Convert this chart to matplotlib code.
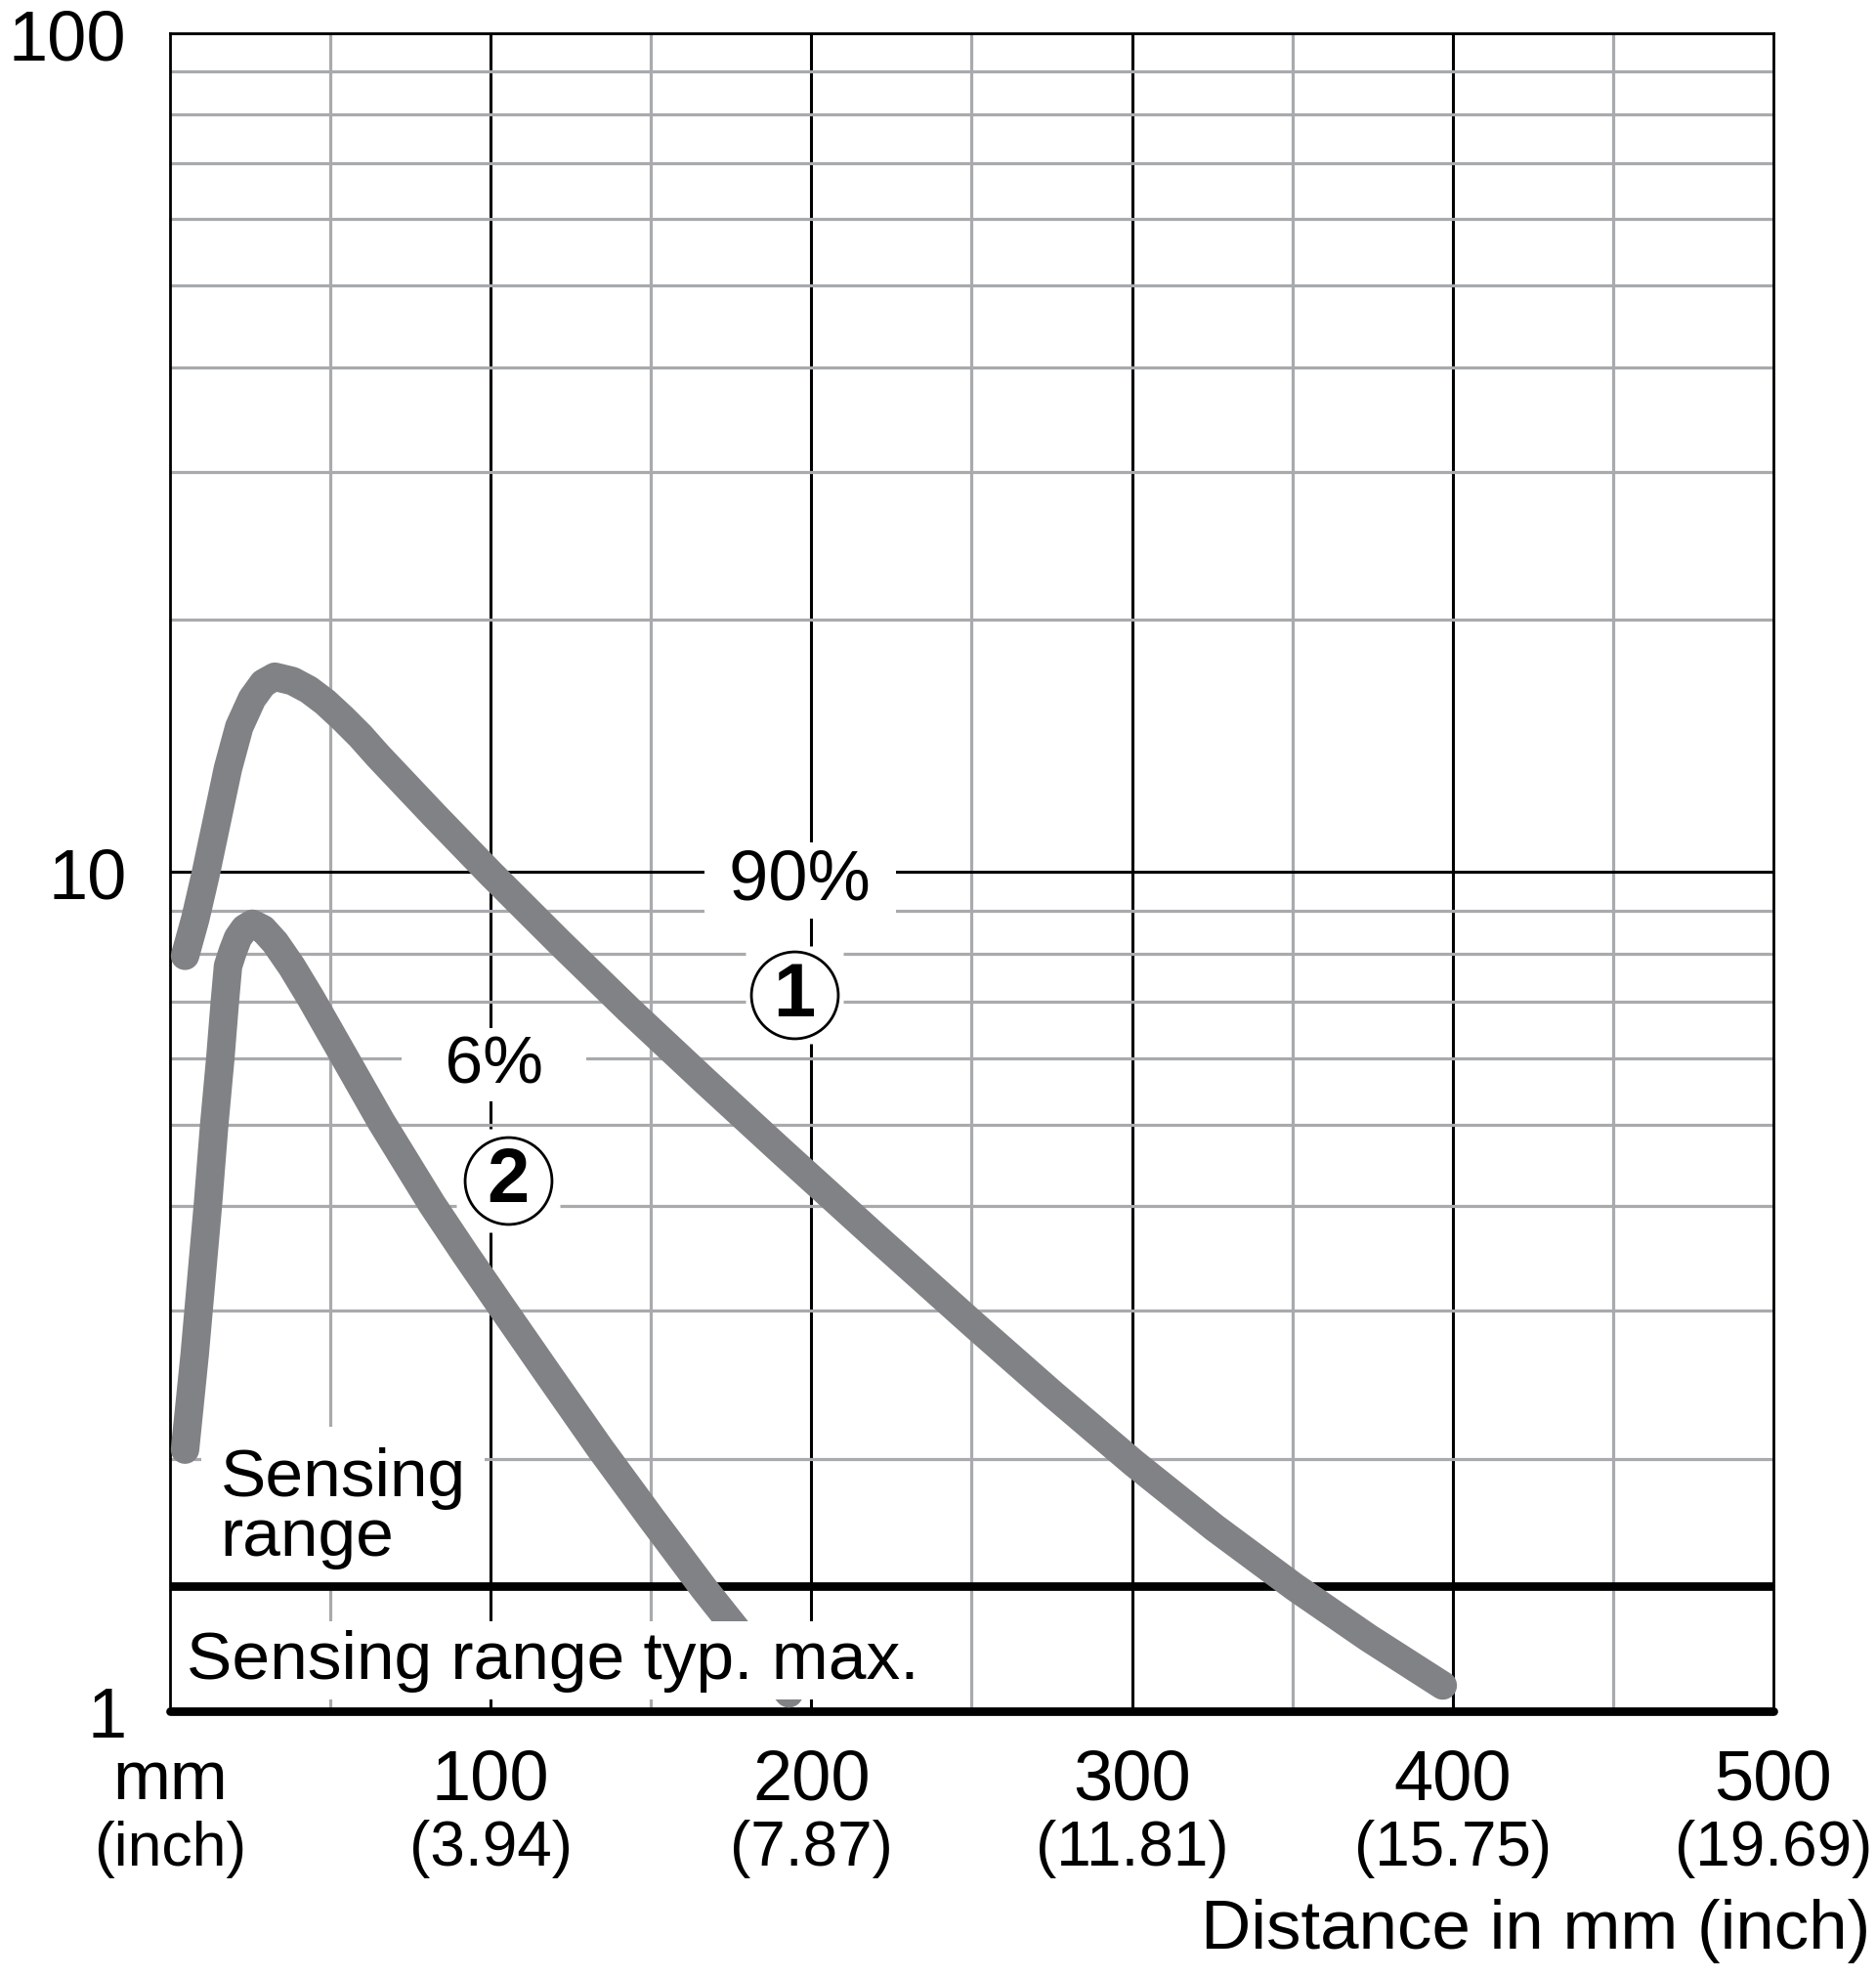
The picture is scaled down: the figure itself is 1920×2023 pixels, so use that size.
import matplotlib
matplotlib.use("Agg")
import matplotlib.pyplot as plt
import matplotlib.transforms as mtrans
from matplotlib.ticker import NullFormatter

plt.rcParams['font.family'] = ['Liberation Sans', 'DejaVu Sans']

# distance in mm vs sensing range (log scale)
dist_90 = [4.7, 7.9, 11.0, 14.6, 18.1, 21.6, 25.6, 29.1, 32.7, 38.2, 43.3, 48.4, 53.9, 59.4, 64.9,
           82.6, 99.9, 121.6, 143.2, 166.8, 190.4, 220.3, 250.6, 275.4, 300.6, 325.7, 350.7, 373.7, 396.9]
range_90 = [7.95, 8.8, 9.9, 11.5, 13.3, 14.9, 16.1, 16.8, 17.1, 16.9, 16.5, 15.95, 15.25, 14.53, 13.76,
            11.67, 9.97, 8.24, 6.85, 5.64, 4.66, 3.67, 2.89, 2.385, 1.975, 1.655, 1.406, 1.223, 1.073]

dist_6 = [4.7, 7.7, 11.8, 13.8, 15.7, 17.1, 18.1, 19.6, 21.2, 23.3, 25.7, 29.0, 32.8, 38.0, 44.0,
          54.2, 65.9, 81.7, 92, 104, 118, 134, 150, 166.5, 178.2, 193]
range_6 = [2.05, 2.66, 4.0, 5.0, 6.0, 7.0, 7.73, 8.05, 8.35, 8.57, 8.68, 8.555, 8.245, 7.715, 7.07,
           6.04, 5.04, 4.02, 3.51, 3.01, 2.52, 2.06, 1.70, 1.40, 1.23, 1.05]

typ_max = 1.41

x_mm = [100, 200, 300, 400, 500]
x_inch = ["(3.94)", "(7.87)", "(11.81)", "(15.75)", "(19.69)"]
y_ticks = [1, 10, 100]

# curve labels: percentage text and circled number
pct_text = ["90%", "6%"]
pct_pos = [(196.5, 9.78), (101.1, 5.90)]
num_text = ["1", "2"]
num_pos = [(194.7, 7.14), (105.4, 4.29)]

curve_col = "#808285"
grid_col = "#a8aaad"

fig = plt.figure(figsize=(19.2, 20.24), dpi=100)
ax = fig.add_axes([0.0906, 0.1344, 0.8547, 0.8483])

ax.set_yscale('log')
ax.set_xlim(0, 500)
ax.set_ylim(1, 100)

# grid
ax.set_xticks([100, 200, 300, 400])
ax.set_xticks([50, 150, 250, 350, 450], minor=True)
ax.set_yticks(y_ticks, [str(v) for v in y_ticks])
ax.set_yticks([2, 3, 4, 5, 6, 7, 8, 9, 20, 30, 40, 50, 60, 70, 80, 90], minor=True)
ax.yaxis.set_minor_formatter(NullFormatter())
ax.set_xticklabels([])
ax.set_axisbelow(True)
ax.grid(which='major', color='black', linewidth=2.2)
ax.grid(which='minor', color=grid_col, linewidth=2.3)
ax.tick_params(which='both', length=0)
ax.tick_params(axis='y', pad=32, labelsize=52)

for s in ['left', 'top', 'right']:
    ax.spines[s].set_linewidth(2.0)
ax.spines['bottom'].set_linewidth(6.3)
ax.spines['bottom'].set_capstyle('round')

ax.axhline(typ_max, color='black', linewidth=6.3, solid_capstyle='round', zorder=3)

ax.plot(dist_90, range_90, color=curve_col, linewidth=21, solid_capstyle='round',
        solid_joinstyle='round', zorder=4)
ax.plot(dist_6, range_6, color=curve_col, linewidth=21, solid_capstyle='round',
        solid_joinstyle='round', zorder=4)

# labels on the curves
for (xp, yp), t, fs in zip(pct_pos, pct_text, [52, 50]):
    sp = " " if t == "90%" else "  "
    ax.text(xp, yp, sp + t + sp, fontsize=fs, ha='center', va='center',
            bbox=dict(fc='white', ec='none', pad=4), zorder=2)

for (xp, yp), t, box in zip(num_pos, num_text, [72, 77]):
    ax.plot([xp], [yp], marker='s', ms=box, mfc='white', mec='none', zorder=2)
    ax.plot([xp], [yp], marker='o', ms=64, mfc='white', mec='black', mew=2.0, zorder=2.1)
    ax.text(xp, yp, t, fontsize=56, fontweight='bold', ha='center', va='center', zorder=2.2)

ax.text(15.7, 1.75, "Sensing\nrange", fontsize=50, ha='left', va='center', linespacing=0.95,
        bbox=dict(fc='white', ec='none', pad=14), zorder=2)
ax.text(5.1, 1.15, "Sensing range typ. max.", fontsize=50, ha='left', va='center',
        bbox=dict(fc='white', ec='none', pad=6), zorder=5)

# x tick labels in two rows
tr = mtrans.blended_transform_factory(ax.transData, fig.transFigure)
ax.text(0, 0.0993, "mm", fontsize=51, ha='center', va='center', transform=tr)
ax.text(0, 0.0652, "(inch)", fontsize=45, ha='center', va='center', transform=tr)
for v, lab in zip(x_mm, x_inch):
    ax.text(v, 0.0993, str(v), fontsize=52, ha='center', va='center', transform=tr)
    ax.text(v, 0.0652, lab, fontsize=46, ha='center', va='center', transform=tr)

fig.text(0.997, 0.0237, "Distance in mm (inch)", fontsize=51, ha='right', va='center')

fig.savefig("out.png", dpi=100)
